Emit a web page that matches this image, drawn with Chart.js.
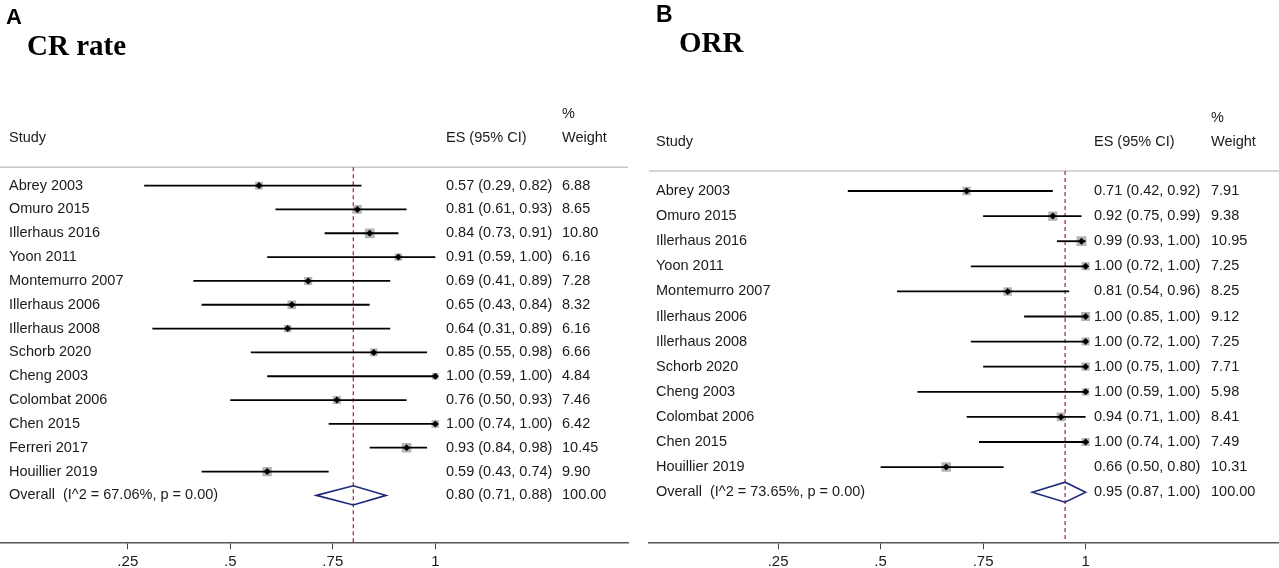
<!DOCTYPE html>
<html>
<head>
<meta charset="utf-8">
<script src="https://cdn.jsdelivr.net/npm/chart.js@4.4.0/dist/chart.umd.min.js"></script>
<style>
  html, body { margin: 0; padding: 0; background: #fff; overflow: hidden; width: 1279px; height: 568px; }
  canvas { position: absolute; top: 0; }
  .letter { position: absolute; font: bold 22px 'Liberation Sans', Arial, sans-serif; line-height: 22px; color: #000; }
  .title { position: absolute; font: bold 29px 'Liberation Serif', 'Times New Roman', serif; line-height: 29px; color: #000; }
</style>
</head>
<body>
<canvas id="chartA" width="640" height="580" style="left:0px"></canvas>
<canvas id="chartB" width="639" height="580" style="left:640px"></canvas>
<div class="letter" style="left:6px; top:6px">A</div>
<div class="title" style="left:27px; top:31px">CR rate</div>
<div class="letter" style="left:656px; top:3px; font-size:23px; line-height:23px">B</div>
<div class="title" style="left:679px; top:28px">ORR</div>
<script>
	var tickVals = [0.25, 0.5, 0.75, 1];

	// panel A: CR rate
	var studiesA = ["Abrey 2003", "Omuro 2015", "Illerhaus 2016", "Yoon 2011", "Montemurro 2007", "Illerhaus 2006",
		"Illerhaus 2008", "Schorb 2020", "Cheng 2003", "Colombat 2006", "Chen 2015", "Ferreri 2017", "Houillier 2019"];
	var esA = [0.57, 0.81, 0.84, 0.91, 0.69, 0.65, 0.64, 0.85, 1.00, 0.76, 1.00, 0.93, 0.59];
	var loA = [0.29, 0.61, 0.73, 0.59, 0.41, 0.43, 0.31, 0.55, 0.59, 0.50, 0.74, 0.84, 0.43];
	var hiA = [0.82, 0.93, 0.91, 1.00, 0.89, 0.84, 0.89, 0.98, 1.00, 0.93, 1.00, 0.98, 0.74];
	var weightA = [6.88, 8.65, 10.80, 6.16, 7.28, 8.32, 6.16, 6.66, 4.84, 7.46, 6.42, 10.45, 9.90];
	var overallA = [0.80, 0.71, 0.88];
	var hetA = "(I^2 = 67.06%, p = 0.00)";

	// panel B: ORR
	var studiesB = ["Abrey 2003", "Omuro 2015", "Illerhaus 2016", "Yoon 2011", "Montemurro 2007", "Illerhaus 2006",
		"Illerhaus 2008", "Schorb 2020", "Cheng 2003", "Colombat 2006", "Chen 2015", "Houillier 2019"];
	var esB = [0.71, 0.92, 0.99, 1.00, 0.81, 1.00, 1.00, 1.00, 1.00, 0.94, 1.00, 0.66];
	var loB = [0.42, 0.75, 0.93, 0.72, 0.54, 0.85, 0.72, 0.75, 0.59, 0.71, 0.74, 0.50];
	var hiB = [0.92, 0.99, 1.00, 1.00, 0.96, 1.00, 1.00, 1.00, 1.00, 1.00, 1.00, 0.80];
	var weightB = [7.91, 9.38, 10.95, 7.25, 8.25, 9.12, 7.25, 7.71, 5.98, 8.41, 7.49, 10.31];
	var overallB = [0.95, 0.87, 1.00];
	var hetB = "(I^2 = 73.65%, p = 0.00)";

	var textFont = '14.5px "Liberation Sans", Arial, sans-serif';
	var textColor = '#1a1a1a';

	function fmt(v) { return v.toFixed(2); }

	// draws header rule, pooled line, CI lines, diamond and the text columns
	var forestPlugin = {
		id: 'forest',
		beforeDatasetsDraw: function(chart, args, opts) {
			var ctx = chart.ctx, x = chart.scales.x, area = chart.chartArea;
			ctx.save();
			ctx.strokeStyle = '#c6c6c6';
			ctx.lineWidth = 1.5;
			ctx.beginPath();
			ctx.moveTo(area.left, area.top);
			ctx.lineTo(area.right, area.top);
			ctx.stroke();

			var px = x.getPixelForValue(opts.overall[0]);
			ctx.strokeStyle = '#a3344a';
			ctx.lineWidth = 1.3;
			ctx.setLineDash([4, 3]);
			ctx.beginPath();
			ctx.moveTo(px, area.top);
			ctx.lineTo(px, area.bottom);
			ctx.stroke();
			ctx.restore();
		},
		afterDatasetDraw: function(chart, args, opts) {
			// boxes are dataset 1 (drawn first), CI lines go over them
			if (args.index !== 1) return;
			var ctx = chart.ctx, x = chart.scales.x, y = chart.scales.y;
			ctx.save();
			ctx.strokeStyle = '#000';
			ctx.lineWidth = 1.8;
			for (var i = 0; i < opts.lo.length; i++) {
				var py = y.getPixelForValue(i);
				ctx.beginPath();
				ctx.moveTo(x.getPixelForValue(opts.lo[i]), py);
				ctx.lineTo(x.getPixelForValue(opts.hi[i]), py);
				ctx.stroke();
			}
			// pooled diamond
			var row = opts.lo.length;
			var o = opts.overall;
			ctx.strokeStyle = '#1f2a7a';
			ctx.lineWidth = 1.6;
			ctx.beginPath();
			ctx.moveTo(x.getPixelForValue(o[1]), y.getPixelForValue(row));
			ctx.lineTo(x.getPixelForValue(o[0]), y.getPixelForValue(row - 0.4));
			ctx.lineTo(x.getPixelForValue(o[2]), y.getPixelForValue(row));
			ctx.lineTo(x.getPixelForValue(o[0]), y.getPixelForValue(row + 0.4));
			ctx.closePath();
			ctx.stroke();
			ctx.restore();
		},
		afterDraw: function(chart, args, opts) {
			var ctx = chart.ctx, y = chart.scales.y, area = chart.chartArea;
			var c = opts.cols;
			ctx.save();
			ctx.font = textFont;
			ctx.fillStyle = textColor;
			ctx.textBaseline = 'middle';
			ctx.textAlign = 'left';
			ctx.fillText('Study', c[0], area.top - 29.5);
			ctx.fillText('ES (95% CI)', c[1], area.top - 29.5);
			ctx.fillText('%', c[2], area.top - 53.5);
			ctx.fillText('Weight', c[2], area.top - 29.5);
			for (var i = 0; i < opts.studies.length; i++) {
				var py = y.getPixelForValue(i);
				ctx.fillText(opts.studies[i], c[0], py);
				ctx.fillText(fmt(opts.es[i]) + ' (' + fmt(opts.lo[i]) + ', ' + fmt(opts.hi[i]) + ')', c[1], py);
				ctx.fillText(fmt(opts.weight[i]), c[2], py);
			}
			var row = y.getPixelForValue(opts.studies.length);
			var o = opts.overall;
			ctx.fillText('Overall  ' + opts.het, c[0], row);
			ctx.fillText(fmt(o[0]) + ' (' + fmt(o[1]) + ', ' + fmt(o[2]) + ')', c[1], row);
			ctx.fillText('100.00', c[2], row);
			ctx.restore();
		}
	};

	function buildChart(id, studies, es, lo, hi, weight, overall, het, xr, yr, pad, cols) {
		var ctx = document.getElementById(id).getContext('2d');
		return new Chart(ctx, {
			type: 'scatter',
			data: {
				datasets: [{
					label: 'estimate',
					data: es.map(function(v, i) { return { x: v, y: i }; }),
					pointStyle: 'rectRot',
					pointRadius: 3.5,
					backgroundColor: '#000',
					borderColor: '#000',
					borderWidth: 0
				}, {
					label: 'weight box',
					data: es.map(function(v, i) { return { x: v, y: i }; }),
					pointStyle: 'rect',
					pointRadius: function(c) { return 2.1 * Math.sqrt(weight[c.dataIndex]); },
					pointHoverRadius: function(c) { return 2.1 * Math.sqrt(weight[c.dataIndex]); },
					backgroundColor: '#b4b4b4',
					borderWidth: 0
				}]
			},
			options: {
				responsive: false,
				animation: false,
				events: [],
				layout: { padding: pad, autoPadding: false },
				plugins: {
					legend: { display: false },
					tooltip: { enabled: false },
					forest: { studies: studies, es: es, lo: lo, hi: hi, weight: weight, overall: overall, het: het, cols: cols }
				},
				scales: {
					x: {
						type: 'linear',
						min: xr[0],
						max: xr[1],
						afterBuildTicks: function(axis) {
							axis.ticks = tickVals.map(function(v) { return { value: v }; });
						},
						grid: { drawOnChartArea: false, drawTicks: true, tickLength: 7, color: '#444', lineWidth: 1 },
						border: { display: true, color: '#555', width: 1.5 },
						ticks: {
							padding: 4,
							color: textColor,
							font: { family: '"Liberation Sans", Arial, sans-serif', size: 15 },
							callback: function(v) { return v === 1 ? '1' : String(v).replace(/^0/, ''); }
						}
					},
					y: {
						type: 'linear',
						display: false,
						reverse: true,
						min: yr[0],
						max: yr[1]
					}
				}
			},
			plugins: [forestPlugin]
		});
	}

	buildChart('chartA', studiesA, esA, loA, hiA, weightA, overallA, hetA,
		[-0.0617, 1.470], [-0.768, 14.969], { top: 167.3, left: 0, right: 12, bottom: 4.7 }, [9, 446, 562]);
	buildChart('chartB', studiesB, esB, loB, hiB, weightB, overallB, hetB,
		[-0.0649, 1.4717], [-0.797, 13.996], { top: 171, left: 9, right: 0, bottom: 4.7 }, [16, 454, 571]);
</script>
</body>
</html>
